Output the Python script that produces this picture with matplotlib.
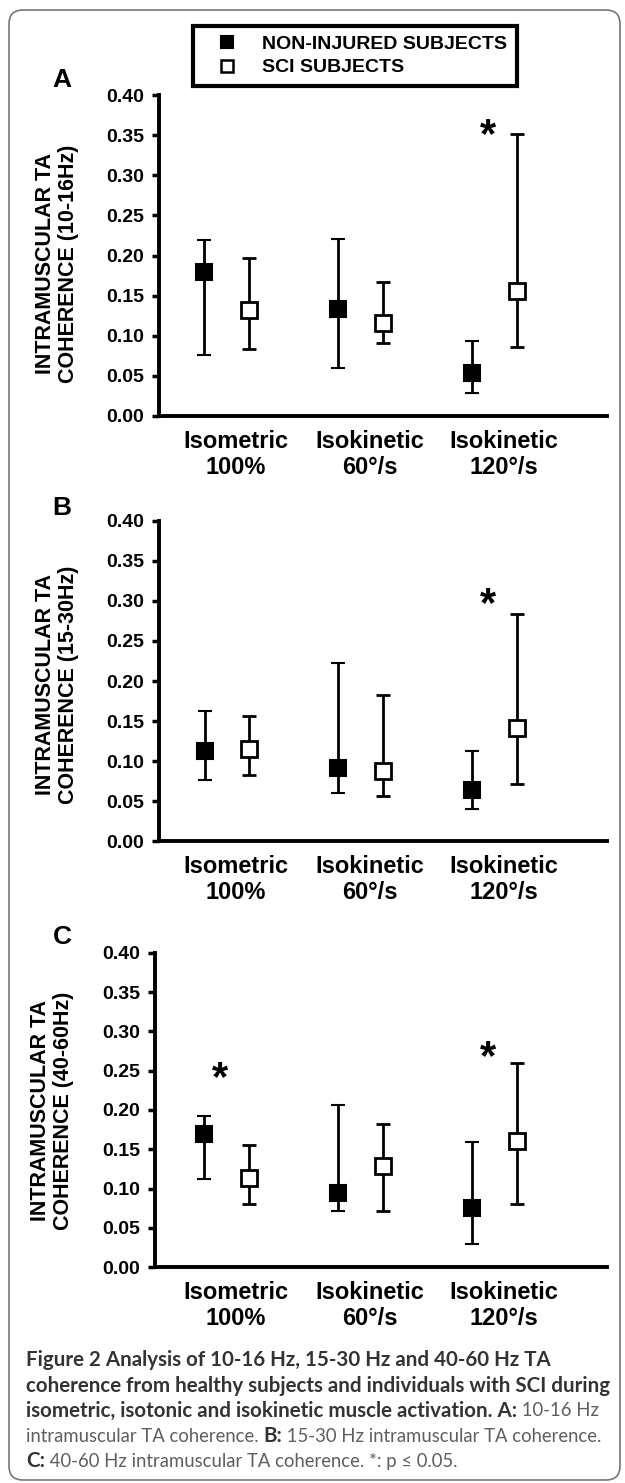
import matplotlib
matplotlib.use("Agg")
import matplotlib.pyplot as plt
from matplotlib.lines import Line2D
from matplotlib.patches import FancyBboxPatch
from matplotlib.transforms import IdentityTransform, offset_copy

plt.rcParams['font.family'] = ['Liberation Sans', 'DejaVu Sans']

## data
conditions = ['Isometric\n100%', 'Isokinetic\n60°/s', 'Isokinetic\n120°/s']
bands = ['10-16Hz', '15-30Hz', '40-60Hz']
panel_letters = ['A', 'B', 'C']

# non-injured subjects (mean, upper whisker, lower whisker), one row per panel
ni_mean = [[0.179, 0.133, 0.054], [0.113, 0.092, 0.064], [0.170, 0.094, 0.076]]
ni_hi = [[0.219, 0.221, 0.094], [0.163, 0.222, 0.113], [0.192, 0.206, 0.159]]
ni_lo = [[0.076, 0.060, 0.029], [0.076, 0.060, 0.040], [0.112, 0.071, 0.030]]

# SCI subjects
sci_mean = [[0.132, 0.116, 0.156], [0.115, 0.088, 0.141], [0.114, 0.129, 0.160]]
sci_hi = [[0.197, 0.167, 0.351], [0.156, 0.182, 0.284], [0.155, 0.182, 0.260]]
sci_lo = [[0.083, 0.091, 0.086], [0.083, 0.057, 0.071], [0.081, 0.071, 0.081]]

# significance stars (condition index, height)
stars = [[(2, 0.359)], [(2, 0.305)], [(0, 0.249), (2, 0.276)]]

yticks = [0.00, 0.05, 0.10, 0.15, 0.20, 0.25, 0.30, 0.35, 0.40]

W, H = 625, 1483
fig = plt.figure(figsize=(W / 100, H / 100), dpi=100)

# axes boxes in pixels: left, top, right, bottom
axes_px = [(159.3, 95, 607, 416), (159.4, 520.7, 607, 841.3), (155.4, 952.7, 607, 1267.3)]
xlims = [(-0.504, 2.842), (-0.504, 2.842), (-0.533, 2.842)]
letter_y = [80, 508, 937]
ylab_y = [0.474, 0.488, 0.497]
off = 0.1667

for i in range(3):
    l, t, r, b = axes_px[i]
    ax = fig.add_axes([l / W, 1 - b / H, (r - l) / W, (b - t) / H])
    xs = range(len(conditions))
    m = ni_mean[i]
    ax.errorbar([x - off for x in xs], m,
                yerr=[[m[k] - ni_lo[i][k] for k in xs], [ni_hi[i][k] - m[k] for k in xs]],
                fmt='s', color='black', ms=11, mfc='black', mec='black', mew=1.5,
                elinewidth=2, capsize=5, capthick=2, zorder=3)
    m = sci_mean[i]
    ax.errorbar([x + off for x in xs], m,
                yerr=[[m[k] - sci_lo[i][k] for k in xs], [sci_hi[i][k] - m[k] for k in xs]],
                fmt='s', color='black', ms=11, mfc='white', mec='black', mew=2,
                elinewidth=2, capsize=5, capthick=2, zorder=3)
    star_tr = offset_copy(ax.transData, fig=fig, y=-8, units='dots')
    for cx, cy in stars[i]:
        ax.text(cx - 0.05, cy, '*', fontsize=30, fontweight='bold', ha='center', va='center',
                transform=star_tr)

    ax.set_xlim(*xlims[i])
    ax.set_ylim(0, 0.40)
    ax.set_yticks(yticks)
    ax.set_yticklabels(['%.2f' % v for v in yticks], fontsize=14, fontweight='bold')
    ax.set_xticks([x + 0.07 for x in xs])
    ax.set_xticklabels(conditions, fontsize=17, fontweight='bold', linespacing=1.15)
    ax.tick_params(axis='y', direction='out', length=5, width=2.5, pad=6)
    ax.tick_params(axis='x', length=0, pad=10)
    for s in ['top', 'right']:
        ax.spines[s].set_visible(False)
    for s in ['left', 'bottom']:
        ax.spines[s].set_linewidth(2.8)
    ax.text(-0.2285, ylab_y[i], 'INTRAMUSCULAR TA\nCOHERENCE (%s)' % bands[i], transform=ax.transAxes,
            rotation=90, ha='center', va='center', fontsize=15.5, fontweight='bold', linespacing=1.1)
    fig.text(62 / W, 1 - letter_y[i] / H, panel_letters[i], fontsize=19, fontweight='bold',
             ha='center', va='center')

# legend at the top
handles = [Line2D([], [], marker='s', ls='none', ms=8.5, mfc='black', mec='black', mew=1.5),
           Line2D([], [], marker='s', ls='none', ms=8.5, mfc='white', mec='black', mew=1.8)]
leg = fig.legend(handles, ['NON-INJURED SUBJECTS', 'SCI SUBJECTS'], loc='upper left',
                 bbox_to_anchor=(193 / W, 1 - 25.7 / H), borderaxespad=0,
                 prop={'weight': 'bold', 'size': 14}, handlelength=2.5, handletextpad=0.55,
                 borderpad=0.5, labelspacing=0.3, fancybox=False, framealpha=1)
leg.get_frame().set_edgecolor('black')
leg.get_frame().set_linewidth(3)

# rounded frame around the whole figure
fig.patches.append(FancyBboxPatch((9, 3), 611, 1470, boxstyle='round,pad=0,rounding_size=14',
                                  transform=IdentityTransform(), fc='none', ec='#777777', lw=1.2))

# caption with bold and regular runs
cap_font = ['Lato', 'DejaVu Sans']
renderer = fig.canvas.get_renderer()


def text_width(s, size, weight):
    p = fig.text(0, 0, s, fontsize=size, fontweight=weight, family=cap_font)
    w = p.get_window_extent(renderer).width
    p.remove()
    return w


bold_fs = 12 * 579 / text_width('coherence from healthy subjects and individuals with SCI during', 12, 'bold')
reg_w = text_width('intramuscular TA coherence.  15-30 Hz intramuscular TA coherence.', 12, 'normal')
reg_fs = 12 * (576 - text_width('B:', bold_fs, 'bold')) / reg_w

caption = [
    [('Figure 2 Analysis of 10-16 Hz, 15-30 Hz and 40-60 Hz TA', True)],
    [('coherence from healthy subjects and individuals with SCI during', True)],
    [('isometric, isotonic and isokinetic muscle activation. A:', True), (' 10-16 Hz', False)],
    [('intramuscular TA coherence. ', False), ('B:', True), (' 15-30 Hz intramuscular TA coherence.', False)],
    [('C:', True), (' 40-60 Hz intramuscular TA coherence. *: p ≤ 0.05.', False)],
]
cap_y = [1360, 1386, 1411, 1436, 1461]
for y, parts in zip(cap_y, caption):
    x = 26
    for txt, bold in parts:
        tt = fig.text(x / W, 1 - y / H, txt, fontsize=bold_fs if bold else reg_fs, family=cap_font,
                      fontweight='bold' if bold else 'normal',
                      color='#333333' if bold else '#5e5e5e', ha='left', va='center')
        x += tt.get_window_extent(renderer).width

fig.savefig('out.png', dpi=100)
